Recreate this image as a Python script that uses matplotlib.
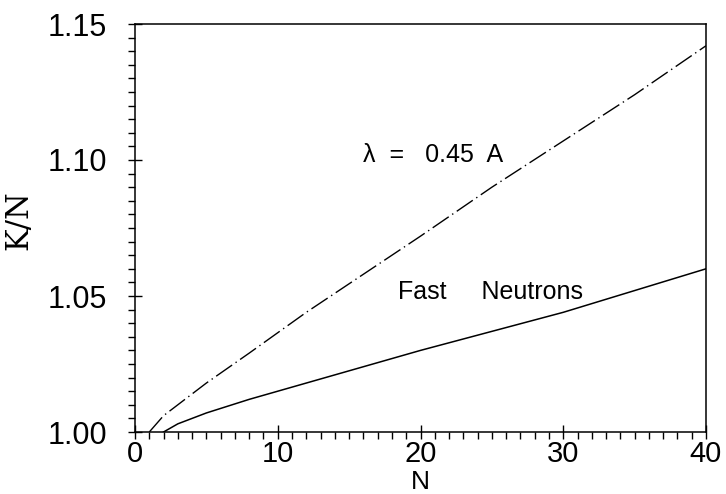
import matplotlib

matplotlib.use("Agg")
import matplotlib.pyplot as plt
from matplotlib.ticker import MultipleLocator

# Upper curve: lambda = 0.45 A (dash-dot)
N_LAMBDA = [1, 2, 3, 5, 8, 12, 16, 20, 25, 30, 35, 40]
K_LAMBDA = [1.000, 1.006, 1.010, 1.018, 1.029, 1.044, 1.058, 1.072, 1.090, 1.107, 1.124, 1.142]

# Lower curve: fast neutrons (solid)
N_FAST = [2, 3, 5, 8, 12, 16, 20, 25, 30, 35, 40]
K_FAST = [1.000, 1.003, 1.007, 1.012, 1.018, 1.024, 1.030, 1.037, 1.044, 1.052, 1.060]

X_TICKS = [0, 10, 20, 30, 40]
Y_TICKS = [1.00, 1.05, 1.10, 1.15]
Y_TICK_LABELS = ["1.00", "1.05", "1.10", "1.15"]

plt.rcParams["font.family"] = ["Liberation Sans", "DejaVu Sans"]

fig = plt.figure(figsize=(7.26, 4.94), dpi=100)
ax = fig.add_axes([135 / 726, 1 - 432 / 494, (706 - 135) / 726, (432 - 24) / 494])

ax.plot(N_LAMBDA, K_LAMBDA, color="black", linewidth=1.0,
        linestyle=(0, (14, 3, 1, 3)))
ax.plot(N_FAST, K_FAST, color="black", linewidth=1.1)

ax.text(16.0, 1.102, "λ  =   0.45  A", fontsize=18, va="center", ha="left")
ax.text(18.4, 1.0516, "Fast     Neutrons", fontsize=18, va="center", ha="left")

ax.set_xlim(0, 40)
ax.set_ylim(1.00, 1.15)
ax.set_xticks(X_TICKS)
ax.set_yticks(Y_TICKS)
ax.set_yticklabels(Y_TICK_LABELS)
ax.xaxis.set_minor_locator(MultipleLocator(1))
ax.yaxis.set_minor_locator(MultipleLocator(0.005))
ax.tick_params(which="major", direction="inout", length=10, width=1.0,
               labelsize=22, top=False, right=False)
ax.tick_params(axis="y", which="major", pad=15)
ax.tick_params(axis="x", which="major", labelsize=21, pad=1)
ax.tick_params(which="minor", direction="out", length=5, width=1.0,
               top=False, right=False)

ax.set_xlabel("N", fontsize=19, va="bottom")
ax.xaxis.set_label_coords(0.5, -(494 - 432) / 408)
ax.set_ylabel("K/N", fontsize=22, family="DejaVu Serif")
ax.yaxis.set_label_coords(-(135 - 34) / 571, 0.52)

for s in ax.spines.values():
    s.set_linewidth(1.1)

fig.savefig("out.png", dpi=100)
